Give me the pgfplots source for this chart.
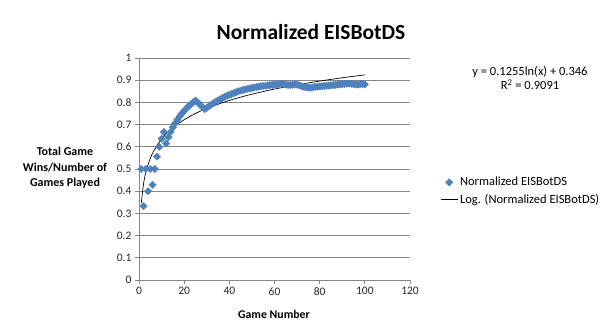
\documentclass[border=0pt]{standalone}
\usepackage{pgfplots}
\pgfplotsset{compat=1.18}
\usepackage{fontspec}
\setmainfont{Carlito}
\definecolor{exblue}{HTML}{4F81BD}
\definecolor{gridgray}{HTML}{868686}
\begin{document}
\begin{tikzpicture}[x=1pt,y=1pt]
\useasboundingbox (0,0) rectangle (603,333);
\begin{axis}[at={(139pt,53pt)}, anchor=south west, scale only axis,
  width=271pt, height=222pt,
  xmin=0, xmax=120, ymin=0, ymax=1,
  xtick={0,20,40,60,80,100,120},
  ytick={0,0.1,0.2,0.3,0.4,0.5,0.6,0.7,0.8,0.9,1},
  yticklabel style={/pgf/number format/fixed},
  /pgf/number format/assume math mode=true,
  axis lines*=left,
  axis line style={gridgray, line width=0.7pt},
  ymajorgrids, grid style={gridgray, line width=0.7pt},
  tick style={gridgray, line width=0.7pt},
  tick align=outside, major tick length=4pt,
  tick label style={font=\fontsize{11.5}{13}\selectfont, text=black!85},
  legend style={at={(1.1,0.40)}, anchor=west, draw=none, fill=none,
    font=\fontsize{12.5}{14}\selectfont, row sep=3pt,
    /tikz/every even column/.append style={column sep=3pt}},
  legend cell align=left,
  clip=false,
]
\addplot[only marks, mark=square*, mark size=2.6pt, color=exblue,
  mark options={fill=exblue, draw=exblue, rotate=45}] coordinates {
(1,0.5)(2,0.333)(3,0.5)(4,0.4)(5,0.5)(6,0.429)(7,0.5)(8,0.556)(9,0.6)(10,0.636)
(11,0.667)(12,0.615)(13,0.643)(14,0.667)(15,0.688)(16,0.706)(17,0.722)(18,0.737)(19,0.75)(20,0.762)
(21,0.773)(22,0.783)(23,0.792)(24,0.8)(25,0.808)(26,0.8)(27,0.79)(28,0.78)(29,0.77)(30,0.775)
(31,0.783)(32,0.79)(33,0.797)(34,0.803)(35,0.809)(36,0.814)(37,0.82)(38,0.825)(39,0.83)(40,0.834)
(41,0.838)(42,0.842)(43,0.846)(44,0.85)(45,0.853)(46,0.856)(47,0.858)(48,0.861)(49,0.863)(50,0.865)
(51,0.867)(52,0.869)(53,0.871)(54,0.873)(55,0.874)(56,0.875)(57,0.877)(58,0.878)(59,0.879)(60,0.88)
(61,0.881)(62,0.882)(63,0.883)(64,0.882)(65,0.88)(66,0.878)(67,0.879)(68,0.88)(69,0.881)(70,0.88)
(71,0.877)(72,0.873)(73,0.87)(74,0.868)(75,0.867)(76,0.866)(77,0.868)(78,0.87)(79,0.871)(80,0.872)
(81,0.873)(82,0.874)(83,0.875)(84,0.876)(85,0.877)(86,0.878)(87,0.879)(88,0.88)(89,0.881)(90,0.882)
(91,0.883)(92,0.884)(93,0.885)(94,0.884)(95,0.882)(96,0.881)(97,0.88)(98,0.882)(99,0.883)(100,0.881)
};
\addlegendentry{Normalized EISBotDS}
\addplot[black, line width=0.7pt, smooth] coordinates {
(1,0.346)(2,0.433)(3,0.484)(4,0.520)(5,0.548)(6,0.571)(8,0.607)(10,0.635)(13,0.668)(16,0.694)
(20,0.722)(25,0.750)(30,0.773)(40,0.809)(50,0.837)(60,0.860)(70,0.879)(80,0.896)(90,0.911)(100,0.924)
};
\addlegendentry{Log. (Normalized EISBotDS)}
\end{axis}
\node[font=\fontsize{21.5}{24}\selectfont\bfseries] at (311,301) {Normalized EISBotDS};
\node[font=\fontsize{12}{15.5}\selectfont\bfseries, align=center] at (65,165) {Total Game\\Wins/Number of\\Games Played};
\node[font=\fontsize{11.8}{13}\selectfont\bfseries] at (274,19) {Game Number};
\node[font=\fontsize{12.5}{14}\selectfont] at (530,261) {y = 0.1255ln(x) + 0.346};
\node[font=\fontsize{12.5}{14}\selectfont] at (530,248) {R\textsuperscript{2} = 0.9091};
\end{tikzpicture}
\end{document}
